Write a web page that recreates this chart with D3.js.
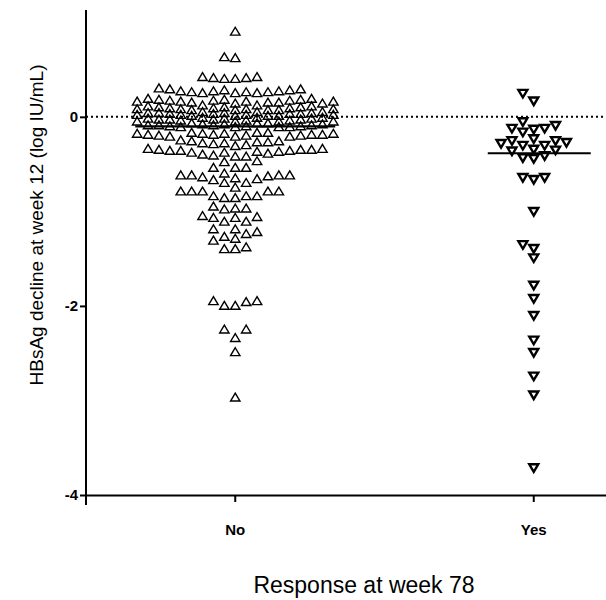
<!DOCTYPE html>
<html>
<head>
<meta charset="utf-8">
<script src="https://cdn.jsdelivr.net/npm/d3@7"></script>
<style>
  html, body { margin: 0; padding: 0; background: #fff; }
  svg { display: block; }
  text { font-family: "Liberation Sans", Arial, sans-serif; fill: #000; }
</style>
</head>
<body>
<script>
// ---------------- data ----------------
const categories = ["No", "Yes"];
const yTicks = [0, -2, -4];

// HBsAg decline (log IU/mL) at week 12, non-responders at week 78
const noValues = [
  0.90,
  0.63, 0.62,
  0.41, 0.42, 0.40, 0.41, 0.42, 0.40,
  0.30, 0.29, 0.29, 0.28, 0.28, 0.27, 0.27, 0.27, 0.26, 0.26, 0.26, 0.25, 0.25, 0.25,
  0.19, 0.19, 0.18, 0.18, 0.18, 0.17, 0.17, 0.17, 0.16, 0.16, 0.16, 0.16, 0.15, 0.15, 0.15, 0.14, 0.14,
  0.12, 0.12, 0.11, 0.11, 0.10, 0.10, 0.10, 0.09, 0.09, 0.09, 0.08, 0.08, 0.08, 0.08, 0.07, 0.07, 0.07, 0.07,
  0.05, 0.05, 0.05, 0.04, 0.04, 0.04, 0.04, 0.03, 0.03, 0.03, 0.03, 0.02, 0.02, 0.02, 0.02, 0.01, 0.01, 0.01, 0.01,
  -0.01, -0.01, -0.01, -0.02, -0.02, -0.02, -0.03, -0.03, -0.03, -0.03, -0.04, -0.04, -0.04, -0.05, -0.05, -0.05, -0.05,
  -0.07, -0.07, -0.07, -0.08, -0.08, -0.08, -0.09, -0.09, -0.09, -0.09, -0.10, -0.10, -0.10, -0.11, -0.11, -0.11, -0.11,
  -0.17, -0.17, -0.17, -0.18, -0.18, -0.18, -0.18, -0.19, -0.19, -0.19, -0.19, -0.20, -0.20, -0.20, -0.21, -0.21, -0.21,
  -0.25, -0.26, -0.26, -0.27, -0.27, -0.28, -0.28, -0.29, -0.30, -0.31,
  -0.34, -0.34, -0.35, -0.35, -0.35, -0.36, -0.36, -0.36, -0.37, -0.37, -0.38, -0.38, -0.39, -0.40, -0.41, -0.42, -0.42,
  -0.47, -0.48, -0.54, -0.54, -0.54,
  -0.60, -0.62, -0.62, -0.62, -0.62, -0.63, -0.64, -0.65, -0.66, -0.67, -0.70, -0.70,
  -0.75, -0.79, -0.79, -0.79, -0.79, -0.79, -0.84, -0.84, -0.84, -0.86, -0.86,
  -0.95, -0.97, -0.98, -0.97,
  -1.06, -1.07, -1.11, -1.11, -1.07, -1.05,
  -1.19, -1.22, -1.24, -1.19,
  -1.29, -1.38, -1.40, -1.40, -1.31, -1.27,
  -1.95, -2.00, -2.00, -1.96, -1.95,
  -2.25, -2.25, -2.34,
  -2.49,
  -2.97
];

// responders at week 78
const yesValues = [
  0.25, 0.17,
  -0.05,
  -0.09, -0.12, -0.12, -0.13, -0.16,
  -0.23, -0.25, -0.25, -0.27, -0.28, -0.30, -0.30,
  -0.34, -0.35, -0.36, -0.41, -0.43, -0.44,
  -0.64, -0.64, -0.66,
  -1.00,
  -1.35, -1.39,
  -1.49,
  -1.78, -1.92, -2.10,
  -2.36, -2.49,
  -2.74, -2.94,
  -3.71
];

// ---------------- chart ----------------
const W = 606, H = 600;
const svg = d3.select("body").append("svg").attr("width", W).attr("height", H);

const y = d3.scaleLinear().domain([-4, 1.13]).range([495, 10]);
const x = d3.scaleBand().domain(categories).range([86, 683]).padding(0);
const cx = c => x(c) + x.bandwidth() / 2;

// column scatter layout (GraphPad-like): points on a horizontal lattice,
// placed bottom-up, nearest free slot to the centre
function scatterLayout(values, centre, step, maxK, minGap) {
  const pts = values.map(v => ({ v, py: y(v) }));
  const order = pts.slice().sort((a, b) => b.py - a.py);
  const slots = [0];
  for (let k = 1; k <= maxK; k++) slots.push(-k, k);
  const used = new Map();
  for (const p of order) {
    let best = 0, bestGap = -1;
    for (const k of slots) {
      const ys = used.get(k) || [];
      let gap = Infinity;
      for (const q of ys) gap = Math.min(gap, Math.abs(q - p.py));
      if (gap >= minGap) { best = k; bestGap = gap; break; }
      if (gap > bestGap + 0.001) { bestGap = gap; best = k; }
    }
    if (!used.has(best)) used.set(best, []);
    used.get(best).push(p.py);
    p.px = centre + best * step;
  }
  return pts;
}

const noPts = scatterLayout(noValues, cx("No"), 10.9, 9, 9);
const yesPts = scatterLayout(yesValues, cx("Yes"), 10.9, 8, 9);

// zero reference (dotted)
svg.append("line")
  .attr("x1", 86).attr("x2", W)
  .attr("y1", y(0)).attr("y2", y(0))
  .attr("stroke", "#000").attr("stroke-width", 2)
  .attr("stroke-dasharray", "2,3");

// points
const upTri = "M0,-4.5L4.7,3.4L-4.7,3.4Z";
const downTri = "M0,4.3L4.5,-3.3L-4.5,-3.3Z";

svg.append("g").selectAll("path").data(noPts).join("path")
  .attr("d", upTri)
  .attr("transform", d => `translate(${d.px},${d.py})`)
  .attr("fill", "none")
  .attr("stroke", "#000").attr("stroke-width", 1.4);

svg.append("g").selectAll("path").data(yesPts).join("path")
  .attr("d", downTri)
  .attr("transform", d => `translate(${d.px},${d.py})`)
  .attr("fill", "#fff")
  .attr("stroke", "#000").attr("stroke-width", 2.4)
  .attr("stroke-linejoin", "miter");

// medians
const medians = [
  { c: "No", m: d3.median(noValues), left: 100, right: 100 },
  { c: "Yes", m: d3.median(yesValues), left: 46, right: 57 }
];
svg.append("g").selectAll("line").data(medians).join("line")
  .attr("x1", d => cx(d.c) - d.left).attr("x2", d => cx(d.c) + d.right)
  .attr("y1", d => y(d.m)).attr("y2", d => y(d.m))
  .attr("stroke", "#000").attr("stroke-width", 2.2);

// y axis
const yAxis = svg.append("g").attr("transform", "translate(86,0)")
  .call(d3.axisLeft(y).tickValues(yTicks).tickSize(6).tickSizeOuter(0).tickPadding(2)
    .tickFormat(d => String(d)));
yAxis.select(".domain").remove();
yAxis.selectAll(".tick line").attr("stroke", "#000").attr("stroke-width", 2);
yAxis.selectAll("text").attr("font-size", 15).attr("font-weight", "bold")
  .attr("font-family", "Liberation Sans, Arial, sans-serif");
svg.append("line").attr("x1", 86).attr("x2", 86).attr("y1", y(1.13)).attr("y2", 505)
  .attr("stroke", "#000").attr("stroke-width", 2);

// x axis
const xAxis = svg.append("g").attr("transform", `translate(0,${y(-4)})`)
  .call(d3.axisBottom(x).tickSize(7).tickSizeOuter(0).tickPadding(22));
xAxis.select(".domain").attr("stroke", "#000").attr("stroke-width", 2);
xAxis.selectAll(".tick line").attr("stroke", "#000").attr("stroke-width", 2);
xAxis.selectAll("text").attr("font-size", 15).attr("font-weight", "bold")
  .attr("font-family", "Liberation Sans, Arial, sans-serif");

// titles
svg.append("text")
  .attr("transform", "translate(43,225) rotate(-90)")
  .attr("text-anchor", "middle")
  .attr("font-size", 19)
  .text("HBsAg decline at week 12 (log IU/mL)");

svg.append("text")
  .attr("x", 364).attr("y", 593)
  .attr("text-anchor", "middle")
  .attr("font-size", 23)
  .text("Response at week 78");
</script>
</body>
</html>
